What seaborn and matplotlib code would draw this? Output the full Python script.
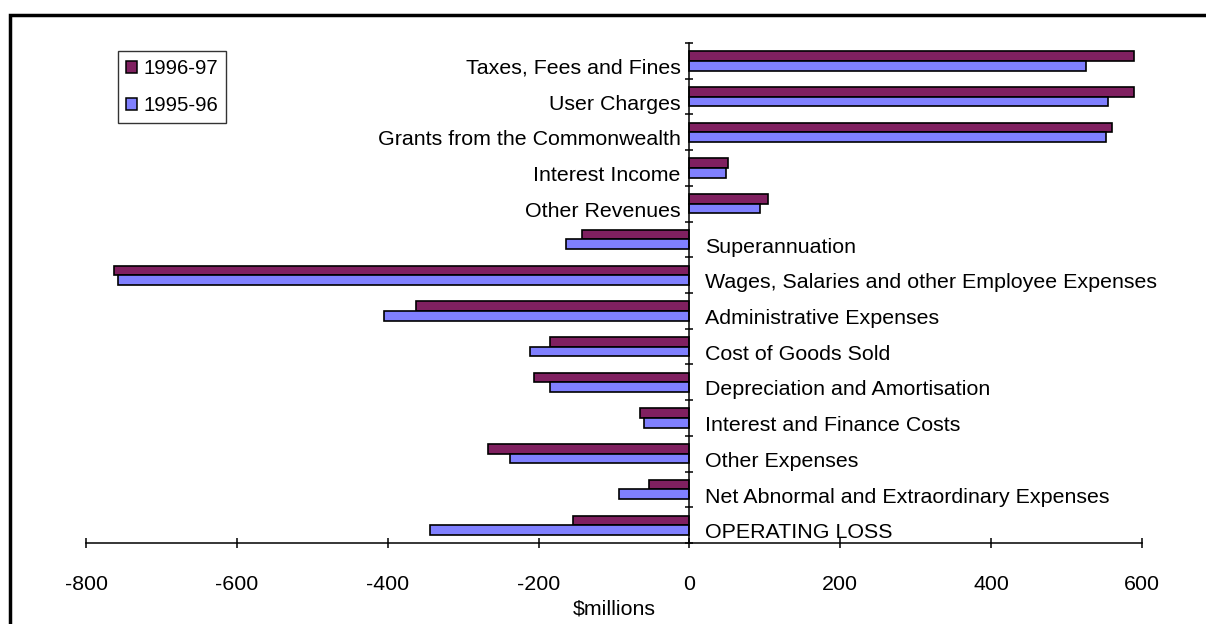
import numpy as np
import pandas as pd
import matplotlib
matplotlib.use("Agg")
import matplotlib.pyplot as plt
from matplotlib.patches import Patch, Rectangle
import seaborn as sns

# Operating statement items, $millions
categories = [
    "Taxes, Fees and Fines",
    "User Charges",
    "Grants from the Commonwealth",
    "Interest Income",
    "Other Revenues",
    "Superannuation",
    "Wages, Salaries and other Employee Expenses",
    "Administrative Expenses",
    "Cost of Goods Sold",
    "Depreciation and Amortisation",
    "Interest and Finance Costs",
    "Other Expenses",
    "Net Abnormal and Extraordinary Expenses",
    "OPERATING LOSS",
]
values_1996_97 = [590, 590, 560.5, 51.5, 104.5, -143, -763, -363, -185, -206, -65.5, -267, -53, -154]
values_1995_96 = [526, 555, 552.5, 49, 93.5, -164, -758, -405, -212, -185, -60, -238, -93, -344]
periods = ["1996-97", "1995-96"]
colors = ["#802060", "#8080FF"]
x_ticks = [-800, -600, -400, -200, 0, 200, 400, 600]

df = pd.DataFrame({
    "category": categories * 2,
    "value": values_1996_97 + values_1995_96,
    "period": [periods[0]] * len(categories) + [periods[1]] * len(categories),
})

sns.set_style("white")
plt.rcParams["font.family"] = ["Liberation Sans", "DejaVu Sans"]
plt.rcParams["axes.unicode_minus"] = False
plt.rcParams["text.color"] = "black"
plt.rcParams["xtick.color"] = "black"
plt.rcParams["ytick.color"] = "black"
plt.rcParams["axes.labelcolor"] = "black"
FS = 15.4

W, H = 1206, 624
fig = plt.figure(figsize=(W / 100, H / 100), dpi=100)
ax = fig.add_axes([86 / W, 1 - 543 / H, (1142 - 86) / W, 500 / H])

palette = dict(zip(periods, colors))
sns.barplot(
    data=df, y="category", x="value", hue="period",
    order=categories, hue_order=periods, palette=palette, saturation=1,
    orient="h", width=0.54, edgecolor="black", linewidth=1.2,
    errorbar=None, legend=False, ax=ax,
)

ax.set_xlim(x_ticks[0], x_ticks[-1])
ax.set_ylim(len(categories) - 0.5, -0.5)

# Spines: category axis sits on zero, value axis at the bottom
for side in ("top", "right"):
    ax.spines[side].set_visible(False)
ax.spines["left"].set_position(("data", 0))
for side in ("left", "bottom"):
    ax.spines[side].set_linewidth(1.1)
    ax.spines[side].set_color("black")

ax.set_xticks(x_ticks)
ax.set_xticklabels([str(t) for t in x_ticks], fontsize=FS)
ax.tick_params(axis="x", bottom=True, direction="inout", length=7.7, width=1.1,
               pad=19, colors="black")

ax.set_yticks(np.arange(-0.5, len(categories), 1.0))
ax.set_yticklabels([])
ax.tick_params(axis="y", left=True, direction="inout", length=5.8, width=1.1, colors="black")

ax.set_ylabel("")
ax.set_xlabel("$millions", fontsize=FS, labelpad=4, color="black")
ax.grid(False)

# Category labels beside the zero line: revenues on the left, expenses on the right
for i, (name, v) in enumerate(zip(categories, values_1996_97)):
    if v >= 0:
        ax.annotate(name, xy=(0, i), xycoords="data", xytext=(-6.5, -5.5),
                    textcoords="offset points", ha="right", va="center",
                    fontsize=FS, color="black")
    else:
        ax.annotate(name, xy=(0, i), xycoords="data", xytext=(11, -5.5),
                    textcoords="offset points", ha="left", va="center",
                    fontsize=FS, color="black")

handles = [Patch(facecolor=c, edgecolor="black", linewidth=1.1) for c in colors]
leg = ax.legend(
    handles, periods, loc="upper left",
    bbox_to_anchor=(118 / W, 1 - 51 / H), bbox_transform=fig.transFigure,
    fontsize=14.6, frameon=True, fancybox=False, borderaxespad=0,
    handlelength=0.55, handleheight=0.55, handletextpad=0.3,
    borderpad=0.4, labelspacing=0.9,
)
leg.get_frame().set_edgecolor("black")
leg.get_frame().set_linewidth(1.0)
for t in leg.get_texts():
    t.set_color("black")

# Outer frame
fig.add_artist(Rectangle((9.7 / W, -0.5), 2.0, 0.5 + (1 - 15 / H),
                         transform=fig.transFigure, fill=False,
                         edgecolor="black", linewidth=2.5, clip_on=False))

fig.savefig("out.png", dpi=100)
